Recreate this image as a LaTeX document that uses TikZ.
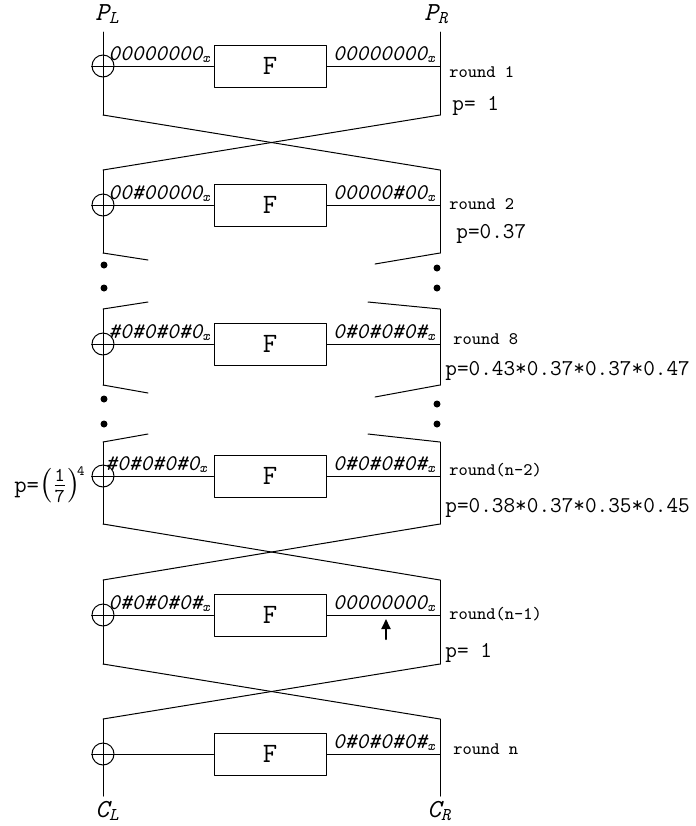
\documentclass[tikz,border=0pt]{standalone}
\usepackage{amsmath}
\usepackage{fontspec}
\usetikzlibrary{arrows.meta}

% differential text: italic digits with a small x below
\newcommand{\dtext}[1]{#1\raisebox{-0.25ex}{\fontsize{7}{7}\selectfont x}}
\newcommand{\rsmall}{\fontsize{8.8}{8.8}\selectfont round}

\begin{document}
\begin{tikzpicture}[line cap=round,line join=round,x=0.5pt,y=-0.5pt,
	wire/.style={line width=0.5pt},
	xor/.style={draw,circle,minimum size=11pt,inner sep=0pt,line width=0.5pt},
	fbox/.style={draw,rectangle,minimum width=56pt,minimum height=21pt,inner sep=0pt,line width=0.5pt,font=\ttfamily\fontsize{14}{14}\selectfont},
	diffl/.style={anchor=base west,inner sep=0pt,font=\ttfamily\itshape\fontsize{11.2}{11.2}\selectfont},
	diffr/.style={anchor=base east,inner sep=0pt,font=\ttfamily\itshape\fontsize{11.2}{11.2}\selectfont},
	rnd/.style={anchor=base west,inner sep=0pt,font=\ttfamily\fontsize{11.3}{11.3}\selectfont},
	side/.style={inner sep=0pt,font=\ttfamily\itshape\fontsize{13}{13}\selectfont},
	blob/.style={circle,fill,inner sep=0pt,minimum size=3.5pt}]
	\useasboundingbox (0,0) rectangle (696,826);

	\node[side] (PL) at (107,14) {P\raisebox{-0.3ex}{\fontsize{9}{9}\selectfont L}};
	\node[side] (PR) at (436,14) {P\raisebox{-0.3ex}{\fontsize{9}{9}\selectfont R}};

	%% round 1
	\coordinate (L1t) at (103,32); \coordinate (R1t) at (440,32);
	\coordinate (L1b) at (103,115); \coordinate (R1b) at (440,115);
	\node[xor] (X1) at (103,66) {};
	\node[fbox] (F1) at (270,66) {F};
	\coordinate (R1) at (440,66);
	\draw [wire] (L1t) -- (L1b);
	\draw [wire] (R1t) -- (R1b);
	\draw [wire] (X1.west) -- (F1.west) (F1.east) -- (R1);
	\node[diffl] at (108,60) {\dtext{00000000}};
	\node[diffr] at (435,60) {\dtext{00000000}};
	\node[rnd] (r1) at (449,77) {\rsmall{} 1};
	\node[rnd] (p1) at (452,110) {p= 1};

	%% round 2
	\coordinate (L2t) at (103,170); \coordinate (R2t) at (440,170);
	\coordinate (L2b) at (103,253); \coordinate (R2b) at (440,253);
	\node[xor] (X2) at (103,205) {};
	\node[fbox] (F2) at (270,205) {F};
	\coordinate (R2) at (440,205);
	\draw [wire] (L1b) -- (R2t);
	\draw [wire] (R1b) -- (L2t);
	\draw [wire] (L2t) -- (L2b);
	\draw [wire] (R2t) -- (R2b);
	\draw [wire] (X2.west) -- (F2.west) (F2.east) -- (R2);
	\node[diffl] at (108,199) {\dtext{00\#00000}};
	\node[diffr] at (435,199) {\dtext{00000\#00}};
	\node[rnd] (r2) at (449,209) {\rsmall{} 2};
	\node[rnd] (p2) at (456,238) {p=0.37};

	% skipped rounds 3..7
	\coordinate (g2l) at (148,260); \coordinate (g2r) at (375,264);
	\coordinate (g8l) at (148,302); \coordinate (g8r) at (368,302);
	\draw [wire] (L2b) -- (g2l);
	\draw [wire] (R2b) -- (g2r);
	\node[blob] (d1) at (104,265) {};
	\node[blob] (d2) at (104,288) {};
	\node[blob] (d3) at (437,268) {};
	\node[blob] (d4) at (437,288) {};

	%% round 8
	\coordinate (L8t) at (103,309); \coordinate (R8t) at (440,309);
	\coordinate (L8b) at (103,385); \coordinate (R8b) at (440,385);
	\node[xor] (X8) at (103,344) {};
	\node[fbox] (F8) at (270,344) {F};
	\coordinate (R8) at (440,344);
	\draw [wire] (g8l) -- (L8t);
	\draw [wire] (g8r) -- (R8t);
	\draw [wire] (L8t) -- (L8b);
	\draw [wire] (R8t) -- (R8b);
	\draw [wire] (X8.west) -- (F8.west) (F8.east) -- (R8);
	\node[diffl] at (108,338) {\dtext{\#0\#0\#0\#0}};
	\node[diffr] at (435,338) {\dtext{0\#0\#0\#0\#}};
	\node[rnd] (r8) at (453,344) {\rsmall{} 8};
	\node[rnd] (p8) at (445,375) {p=0.43*0.37*0.37*0.47};

	% skipped rounds 9..n-3
	\coordinate (g8bl) at (148,393); \coordinate (g8br) at (375,397);
	\coordinate (gml) at (148,434); \coordinate (gmr) at (368,434);
	\draw [wire] (L8b) -- (g8bl);
	\draw [wire] (R8b) -- (g8br);
	\node[blob] (d5) at (104,399) {};
	\node[blob] (d6) at (104,424) {};
	\node[blob] (d7) at (437,404) {};
	\node[blob] (d8) at (437,424) {};

	%% round n-2
	\coordinate (Lmt) at (103,442); \coordinate (Rmt) at (440,442);
	\coordinate (Lmb) at (103,524); \coordinate (Rmb) at (440,524);
	\node[xor] (Xm) at (103,476) {};
	\node[fbox] (Fm) at (270,476) {F};
	\coordinate (Rm) at (440,476);
	\draw [wire] (gml) -- (Lmt);
	\draw [wire] (gmr) -- (Rmt);
	\draw [wire] (Lmt) -- (Lmb);
	\draw [wire] (Rmt) -- (Rmb);
	\draw [wire] (Xm.west) -- (Fm.west) (Fm.east) -- (Rm);
	\node[diffl] at (105,470) {\dtext{\#0\#0\#0\#0}};
	\node[diffr] at (435,470) {\dtext{0\#0\#0\#0\#}};
	\node[rnd] (rm) at (449,475) {\rsmall(n-2)};
	\node[rnd] (pm) at (445,512) {p=0.38*0.37*0.35*0.45};
	\node[anchor=east,inner sep=0pt,font=\ttfamily\fontsize{12}{12}\selectfont] (pin) at (86,485)
		{p=\fontsize{14}{14}\selectfont$\left(\frac{\texttt{1}}{\texttt{7}}\right)^{\!\texttt{\fontsize{7}{7}\selectfont 4}}$};

	%% round n-1
	\coordinate (Lnt) at (103,580); \coordinate (Rnt) at (440,580);
	\coordinate (Lnb) at (103,664); \coordinate (Rnb) at (440,664);
	\node[xor] (Xn) at (103,615) {};
	\node[fbox] (Fn) at (270,615) {F};
	\coordinate (Rn) at (440,615);
	\draw [wire] (Lmb) -- (Rnt);
	\draw [wire] (Rmb) -- (Lnt);
	\draw [wire] (Lnt) -- (Lnb);
	\draw [wire] (Rnt) -- (Rnb);
	\draw [wire] (Xn.west) -- (Fn.west) (Fn.east) -- (Rn);
	\node[diffl] at (108,609) {\dtext{0\#0\#0\#0\#}};
	\node[diffr] at (435,609) {\dtext{00000000}};
	\node[rnd] (rn) at (449,619) {\rsmall(n-1)};
	\node[rnd] (pn) at (445,657) {p= 1};
	\coordinate (a0) at (386,639); \coordinate (a1) at (386,619);
	\draw [-{Triangle[length=5pt,width=4.5pt]},line width=1pt] (a0) -- (a1);

	%% round n
	\coordinate (Lzt) at (103,719); \coordinate (Rzt) at (440,719);
	\coordinate (Lzb) at (103,796); \coordinate (Rzb) at (440,796);
	\node[xor] (Xz) at (103,754) {};
	\node[fbox] (Fz) at (270,754) {F};
	\coordinate (Rz) at (440,754);
	\draw [wire] (Lnb) -- (Rzt);
	\draw [wire] (Rnb) -- (Lzt);
	\draw [wire] (Lzt) -- (Lzb);
	\draw [wire] (Rzt) -- (Rzb);
	\draw [wire] (Xz.west) -- (Fz.west) (Fz.east) -- (Rz);
	\node[diffr] at (435,748) {\dtext{0\#0\#0\#0\#}};
	\node[rnd] (rz) at (453,754) {\rsmall{} n};

	\node[side] (CL) at (107,811) {C\raisebox{-0.3ex}{\fontsize{9}{9}\selectfont L}};
	\node[side] (CR) at (439,811) {C\raisebox{-0.3ex}{\fontsize{9}{9}\selectfont R}};
\end{tikzpicture}
\end{document}
